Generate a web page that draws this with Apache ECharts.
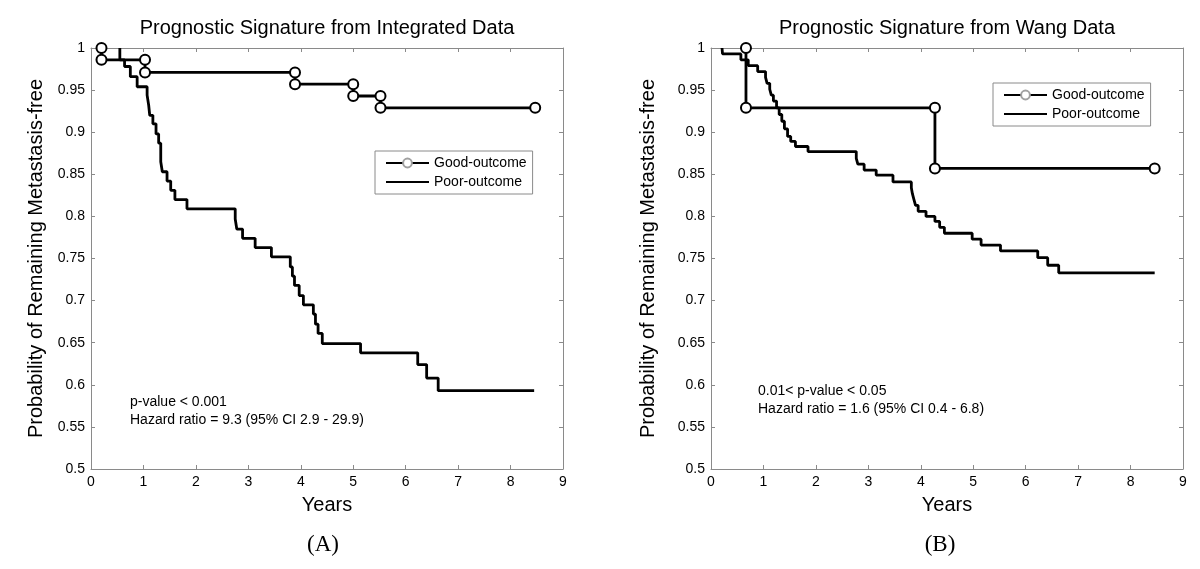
<!DOCTYPE html>
<html><head><meta charset="utf-8">
<script src="https://cdn.jsdelivr.net/npm/echarts@6/dist/echarts.min.js"></script>
<style>html,body{margin:0;padding:0;background:#fff}#c{width:1200px;height:569px}</style>
</head><body><div id="c"></div>
<script>
// ---- Data (Kaplan-Meier curves) ----
const seriesNames = ['Good-outcome', 'Poor-outcome'];
const panelTitles = ['Prognostic Signature from Integrated Data', 'Prognostic Signature from Wang Data'];
const panelLabels = ['(A)', '(B)'];
const xTickMax = 9;
const yTickMin = 0.5, yTickMax = 1, yTickStep = 0.05;

// Panel A - Good outcome
const aGoodStart = [0.2, 1.0];
const aGoodTimes = [0.2, 1.03, 3.89, 5.00, 5.52];
const aGoodSurv  = [0.986, 0.971, 0.957, 0.943, 0.929];
const aGoodEnd   = 8.47;
// Panel A - Poor outcome
const aPoorStart = [0.55, 1.0];
const aPoorTimes = [0.55, 0.64, 0.75, 0.88, 1.07, 1.10, 1.12, 1.18, 1.24, 1.29, 1.33, 1.36, 1.45, 1.52, 1.60, 1.83,
                    2.75, 2.78, 2.89, 3.13, 3.44, 3.80, 3.84, 3.88, 3.97, 4.05, 4.24, 4.28, 4.33, 4.41,
                    5.14, 6.23, 6.40, 6.62];
const aPoorSurv  = [0.986, 0.978, 0.966, 0.954, 0.944, 0.932, 0.920, 0.910, 0.898, 0.887, 0.865, 0.853, 0.842, 0.831, 0.820, 0.809,
                    0.797, 0.785, 0.774, 0.763, 0.752, 0.740, 0.729, 0.718, 0.706, 0.695, 0.684, 0.672, 0.661, 0.649,
                    0.638, 0.624, 0.608, 0.593];
const aPoorEnd   = 8.45;

// Panel B - Good outcome
const bGoodStart = [0.667, 1.0];
const bGoodTimes = [0.667, 4.27];
const bGoodSurv  = [0.929, 0.857];
const bGoodEnd   = 8.46;
// Panel B - Poor outcome
const bPoorStart = [0.21, 1.0];
const bPoorTimes = [0.22, 0.57, 0.71, 0.89, 1.04, 1.07, 1.12, 1.15, 1.19, 1.25, 1.30, 1.35, 1.40, 1.46, 1.52, 1.61, 1.85,
                    2.77, 2.80, 2.92, 3.15, 3.47, 3.82, 3.84, 3.87, 3.90, 3.95, 4.10, 4.27, 4.36, 4.45,
                    4.98, 5.15, 5.52, 6.23, 6.42, 6.63];
const bPoorSurv  = [0.993, 0.986, 0.979, 0.972, 0.965, 0.958, 0.951, 0.944, 0.937, 0.929, 0.921, 0.913, 0.904, 0.895, 0.889, 0.883, 0.877,
                    0.869, 0.862, 0.855, 0.849, 0.841, 0.834, 0.827, 0.820, 0.813, 0.806, 0.800, 0.794, 0.787, 0.780,
                    0.773, 0.766, 0.759, 0.751, 0.742, 0.733];
const bPoorEnd   = 8.46;

const annotA = ['p-value < 0.001', 'Hazard ratio = 9.3 (95% CI 2.9 - 29.9)'];
const annotB = ['0.01< p-value < 0.05', 'Hazard ratio = 1.6 (95% CI 0.4 - 6.8)'];

// ---- build step paths ----
function km(start, times, surv, endT) {
  const pts = [[start[0], start[1]]];
  let prev = start[1];
  times.forEach((t, i) => {
    const last = pts[pts.length - 1];
    if (!(last[0] === t && last[1] === prev)) pts.push([t, prev]);
    pts.push([t, surv[i]]);
    prev = surv[i];
  });
  pts.push([endT, prev]);
  return pts;
}

const FONT = '"Liberation Sans", Arial, sans-serif';
const AXC = '#8a8a8a';
const grids = [
  {left: 91, top: 48, width: 472, height: 421},
  {left: 711, top: 48, width: 472, height: 421}
];

function xAx(gi, pos, show) {
  return {
    gridIndex: gi, type: 'value', position: pos, min: 0, max: xTickMax, interval: 1,
    name: show ? 'Years' : '', nameLocation: 'middle', nameGap: 26,
    nameTextStyle: {fontFamily: FONT, fontSize: 20, color: '#000'},
    axisLine: {show: true, onZero: false, lineStyle: {color: AXC, width: 1}},
    axisTick: {show: true, inside: true, length: 4, lineStyle: {color: AXC}},
    axisLabel: {show: show, fontFamily: FONT, fontSize: 14, color: '#000', margin: 6},
    splitLine: {show: false}
  };
}
function yAx(gi, pos, show, gap) {
  return {
    gridIndex: gi, type: 'value', position: pos, min: yTickMin, max: yTickMax, interval: yTickStep,
    name: show ? 'Probability of Remaining Metastasis-free' : '', nameLocation: 'middle', nameGap: gap || 45,
    nameTextStyle: {fontFamily: FONT, fontSize: 20, color: '#000'},
    axisLine: {show: true, onZero: false, lineStyle: {color: AXC, width: 1}},
    axisTick: {show: true, inside: true, length: 4, lineStyle: {color: AXC}},
    axisLabel: {show: show, fontFamily: FONT, fontSize: 14, color: '#000', margin: 6},
    splitLine: {show: false}
  };
}

function goodSeries(xi, yi, data) {
  return {
    name: seriesNames[0], type: 'line', xAxisIndex: xi, yAxisIndex: yi, data: data,
    symbol: 'emptyCircle', symbolSize: 10, showSymbol: true,
    lineStyle: {color: '#000', width: 2.8},
    itemStyle: {color: '#000', borderColor: '#000', borderWidth: 2.8},
    animation: false, z: 3
  };
}
function poorSeries(xi, yi, data) {
  return {
    name: seriesNames[1], type: 'line', xAxisIndex: xi, yAxisIndex: yi, data: data,
    symbol: 'none', lineStyle: {color: '#000', width: 2.8},
    itemStyle: {color: '#000'}, animation: false, z: 2
  };
}

function legendAt(left, top) {
  return {
    left: left, top: top, orient: 'vertical',
    data: [
      {name: seriesNames[0], itemStyle: {color: '#a0a0a0', borderColor: '#a0a0a0', borderWidth: 1}},
      {name: seriesNames[1], itemStyle: {color: 'transparent', borderColor: 'transparent', borderWidth: 0}}
    ],
    itemWidth: 43, itemHeight: 11, itemGap: 5,
    padding: [5, 6, 5, 10],
    borderColor: '#8a8a8a', borderWidth: 1, backgroundColor: '#fff',
    textStyle: {fontFamily: FONT, fontSize: 14, color: '#000'},
    selectedMode: false
  };
}

function txt(x, y, s, font, align) {
  return {type: 'text', x: x, y: y, silent: true,
    style: {text: s, font: font, fill: '#000', textAlign: align || 'left', textVerticalAlign: 'middle'}};
}

const option = {
  backgroundColor: '#fff',
  animation: false,
  grid: grids,
  xAxis: [xAx(0, 'bottom', true), xAx(0, 'top', false), xAx(1, 'bottom', true), xAx(1, 'top', false)],
  yAxis: [yAx(0, 'left', true, 45), yAx(0, 'right', false), yAx(1, 'left', true, 53), yAx(1, 'right', false)],
  legend: [legendAt(375, 151), legendAt(993, 83)],
  series: [
    poorSeries(0, 0, km(aPoorStart, aPoorTimes, aPoorSurv, aPoorEnd)),
    goodSeries(0, 0, km(aGoodStart, aGoodTimes, aGoodSurv, aGoodEnd)),
    poorSeries(2, 2, km(bPoorStart, bPoorTimes, bPoorSurv, bPoorEnd)),
    goodSeries(2, 2, km(bGoodStart, bGoodTimes, bGoodSurv, bGoodEnd))
  ],
  graphic: [
    txt(327, 28, panelTitles[0], '20px ' + FONT, 'center'),
    txt(947, 28, panelTitles[1], '20px ' + FONT, 'center'),
    txt(130, 402, annotA[0], '14px ' + FONT),
    txt(130, 420, annotA[1], '14px ' + FONT),
    txt(758, 391, annotB[0], '14px ' + FONT),
    txt(758, 409, annotB[1], '14px ' + FONT),
    txt(323, 545, panelLabels[0], '23px "Liberation Serif", "Times New Roman", serif', 'center'),
    txt(940, 545, panelLabels[1], '23px "Liberation Serif", "Times New Roman", serif', 'center')
  ]
};
const chart = echarts.init(document.getElementById('c'), null, {renderer: 'canvas'});
chart.setOption(option);
</script>
</body></html>
